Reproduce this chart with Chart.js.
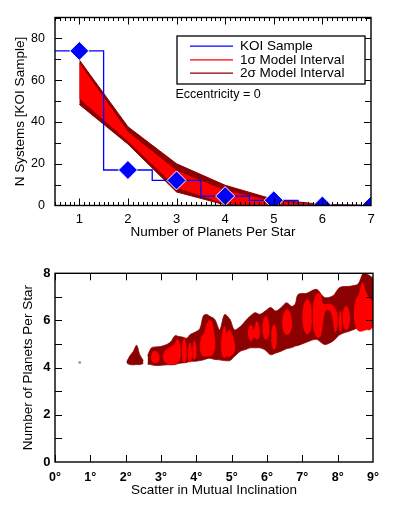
<!DOCTYPE html>
<html><head><meta charset="utf-8">
<script src="https://cdn.jsdelivr.net/npm/chart.js@4.4.1/dist/chart.umd.min.js"></script>
<style>
html,body{margin:0;padding:0;background:#fff;}
#wrap{position:relative;width:397px;height:512px;overflow:hidden;}
.box{position:absolute;left:0;width:397px;}
</style></head><body>
<div id="wrap">
<div class="box" style="top:0;height:250px"><canvas id="c1"></canvas></div>
<div class="box" style="top:250px;height:262px"><canvas id="c2"></canvas></div>
</div>
<script>
// ---------- Top panel data ----------
const planetsPerStar = [1, 2, 3, 4, 5, 6, 7];
const koiSystems     = [74, 17, 12, 4.5, 2.5, 0, 0];
const koiBinEdges    = [0.5, 1.5, 2.5, 3.5, 4.5, 5.5, 7];
const sigma2High = [69.7, 37.7, 20, 9.7, 2.9, 0.5, 0];
const sigma1High = [68, 35, 16.5, 7, 1.8, 0.2, 0];
const sigma1Low  = [51.5, 31, 8.8, 1, 0, 0, 0];
const sigma2Low  = [48.4, 29.4, 6.5, 0.3, 0, 0, 0];
const topXTicks = [1, 2, 3, 4, 5, 6, 7];
const topYTicks = [0, 20, 40, 60, 80];
const legendLabels = ['KOI Sample', '1\u03c3 Model Interval', '2\u03c3 Model Interval'];

// ---------- Bottom panel data ----------
const outerX   = [2.03,2.12,2.22,2.31,2.4,2.5,2.56,2.62,2.73,2.87,3.0,3.16,3.28,3.4,3.5,3.6,3.73,3.82,3.96,4.1,4.2,4.3,4.38,4.52,4.66,4.8,4.95,5.08,5.25,5.4,5.52,5.66,5.8,5.95,6.1,6.25,6.4,6.55,6.7,6.8,6.88,7.12,7.4,7.63,7.87,8.06,8.34,8.58,8.72,8.85,9.0];
const outerTop = [4.25,4.5,4.7,4.95,4.55,4.3,null,4.5,4.84,4.88,4.9,4.98,5.1,5.36,5.32,5.3,5.25,5.4,5.5,5.65,6.2,6.25,6.18,6.05,5.6,6.25,6.05,5.6,5.75,6.0,6.18,6.33,6.26,6.4,6.55,6.4,6.55,6.75,6.6,6.7,7.1,7.15,7.32,6.97,7.05,7.4,7.45,7.55,8.0,7.95,7.8];
const outerBot = [4.2,4.13,4.12,4.13,4.13,4.18,null,4.15,4.12,4.09,4.1,4.12,4.12,4.13,4.18,4.2,4.22,4.27,4.27,4.3,4.33,4.38,4.4,4.35,4.33,4.3,4.3,4.48,4.7,4.77,4.84,4.84,4.84,4.75,4.55,4.62,4.7,4.8,4.85,4.92,4.94,5.08,5.2,4.98,5.13,5.4,5.55,5.7,5.85,5.97,6.04];
const innerX = [
  2.72,2.76,2.84,2.92,2.96,3.0,
  3.06,3.12,3.25,3.38,3.46,3.53,3.56,3.57,
  3.59,3.62,3.66,3.7,3.73,3.75,
  3.76,3.79,3.82,3.85,3.88,3.885,
  3.89,3.92,3.95,3.98,4.01,4.05,
  4.1,4.15,4.22,4.3,4.38,4.46,4.52,4.54,4.6,
  4.7,4.74,4.8,4.86,4.92,4.98,5.05,5.1,5.3,
  5.46,5.5,5.56,5.63,5.7,5.76,5.8,5.84,
  5.87,5.91,5.97,6.03,6.07,6.09,
  6.12,6.15,6.2,6.25,6.28,6.35,
  6.43,6.48,6.57,6.66,6.71,6.85,
  7.0,7.05,7.14,7.23,7.27,7.28,
  7.3,7.34,7.44,7.52,7.58,7.66,7.78,7.86,7.93,8.0,8.02,
  8.03,8.06,8.09,8.12,8.13,
  8.14,8.18,8.24,8.3,8.35,8.42,
  8.46,8.52,8.6,8.7,8.8,8.9,9.0];
const innerTop = [
  4.45,4.65,4.7,4.6,4.45,null,
  4.5,4.72,4.85,4.98,5.2,5.0,4.6,null,
  4.7,5.1,5.25,5.05,4.6,null,
  4.65,4.95,5.05,4.95,4.6,null,
  4.75,5.05,5.15,5.0,4.7,null,
  4.9,5.3,5.45,5.85,6.02,5.85,5.2,4.95,null,
  5.0,5.5,5.75,5.45,5.6,5.5,5.25,4.9,null,
  5.5,5.75,5.8,5.6,5.95,5.85,5.5,null,
  5.7,6.05,6.18,6.05,5.7,null,
  5.3,5.7,5.83,5.7,5.3,null,
  5.95,6.3,6.47,6.3,5.95,null,
  6.2,6.7,6.9,6.7,6.2,null,
  6.4,6.9,7.15,7.1,6.7,6.69,6.69,6.65,6.5,6.3,null,
  6.0,6.35,6.4,6.0,null,
  6.15,6.5,6.62,6.5,6.15,null,
  6.4,6.9,7.1,7.6,7.2,6.95,6.8];
const innerBot = [
  4.45,4.25,4.2,4.25,4.4,null,
  4.4,4.22,4.16,4.16,4.2,4.35,4.55,null,
  4.6,4.3,4.22,4.3,4.5,null,
  4.55,4.3,4.22,4.3,4.5,null,
  4.65,4.4,4.35,4.4,4.6,null,
  4.8,4.55,4.48,4.48,4.5,4.55,4.8,4.9,null,
  4.9,4.5,4.42,4.5,4.45,4.5,4.6,4.8,null,
  5.4,5.2,5.12,5.3,5.2,5.25,5.45,null,
  5.6,5.3,5.2,5.3,5.55,null,
  5.2,4.9,4.77,4.9,5.2,null,
  5.85,5.5,5.4,5.5,5.85,null,
  6.1,5.6,5.42,5.6,6.0,null,
  6.2,5.5,5.27,5.35,5.9,6.42,6.42,6.1,5.5,5.8,null,
  6.0,5.6,5.5,5.9,null,
  6.05,5.7,5.6,5.7,6.05,null,
  6.2,5.7,5.55,5.55,5.6,5.6,5.7];
const strayX = [0.7];
const strayY = [4.22];
const botXTicks = [0, 1, 2, 3, 4, 5, 6, 7, 8, 9];
const botYTicks = [0, 2, 4, 6, 8];
const botYMinor = [1, 3, 5, 7];

Chart.defaults.font.family = '"Liberation Sans", Arial, sans-serif';
Chart.defaults.color = '#000';

const DARK = '#8b0000', RED = '#ff0000', BLUE = '#0000ff';
const pts = (xs, ys) => xs.map((x, i) => ({x: x, y: ys[i]}));

const framePlugin = {
  id: 'frame',
  afterDraw(chart, args, o) {
    const {ctx, chartArea: a, scales: {x, y}} = chart;
    ctx.save();
    ctx.beginPath();
    ctx.rect(a.left, a.top, a.right - a.left, a.bottom - a.top);
    ctx.clip();
    ctx.strokeStyle = '#000';
    ctx.lineWidth = 1;
    ctx.beginPath();
    const xt = (vals, len) => vals.forEach(v => {
      const px = Math.round(x.getPixelForValue(v)) + 0.5;
      ctx.moveTo(px, a.bottom); ctx.lineTo(px, a.bottom - len);
      ctx.moveTo(px, a.top); ctx.lineTo(px, a.top + len);
    });
    const yt = (vals, len) => vals.forEach(v => {
      const py = Math.round(y.getPixelForValue(v)) + 0.5;
      ctx.moveTo(a.left, py); ctx.lineTo(a.left + len, py);
      ctx.moveTo(a.right, py); ctx.lineTo(a.right - len, py);
    });
    xt(o.xMinor || [], o.minorLen);
    xt(o.xMajor || [], o.majorLen);
    yt(o.yMinor || [], o.yMinorLen || o.majorLen);
    yt(o.yMajor || [], o.majorLen);
    ctx.stroke();
    ctx.restore();
    ctx.save();
    ctx.strokeStyle = '#000';
    ctx.lineWidth = 1.4;
    ctx.strokeRect(a.left, a.top, a.right - a.left, a.bottom - a.top);
    ctx.restore();
  }
};

const legendPlugin = {
  id: 'boxLegend',
  afterDraw(chart, args, o) {
    if (!o.show) return;
    const ctx = chart.ctx;
    ctx.save();
    ctx.fillStyle = '#fff';
    ctx.fillRect(177, 36, 188, 48);
    ctx.strokeStyle = '#000';
    ctx.lineWidth = 1.3;
    ctx.strokeRect(177, 36, 188, 48);
    const cols = [BLUE, RED, DARK];
    const rows = [45.7, 59.3, 72.7];
    ctx.font = '13.5px "Liberation Sans", Arial, sans-serif';
    ctx.textBaseline = 'middle';
    legendLabels.forEach((t, i) => {
      ctx.strokeStyle = cols[i];
      ctx.lineWidth = 1.2;
      ctx.beginPath();
      ctx.moveTo(190, rows[i] + 0.5); ctx.lineTo(233, rows[i] + 0.5);
      ctx.stroke();
      ctx.fillStyle = '#000';
      ctx.fillText(t, 240, rows[i] + 0.5);
    });
    ctx.font = '12.5px "Liberation Sans", Arial, sans-serif';
    ctx.fillText('Eccentricity = 0', 175.5, 94.5);
    ctx.restore();
  }
};

const minorTop = [];
for (let v = 5; v <= 70; v++) minorTop.push(v / 10);

const noGrid = {display: false, drawTicks: false, tickLength: 0};

new Chart(document.getElementById('c1'), {
  type: 'line',
  data: {
    datasets: [
      {label: 'KOI', type: 'scatter', data: pts(planetsPerStar, koiSystems), pointStyle: 'rectRot', pointRadius: 9.5,
       backgroundColor: BLUE, borderColor: '#fff', borderWidth: 1, order: 0},
      {label: 'KOI hist', data: pts(koiBinEdges, koiSystems), stepped: 'before', borderColor: BLUE, borderWidth: 1.3,
       pointRadius: 0, fill: false, order: 1},
      {label: '1s hi', data: pts(planetsPerStar, sigma1High), borderColor: RED, backgroundColor: RED, borderWidth: 1,
       pointRadius: 0, fill: '+1', order: 2},
      {label: '1s lo', data: pts(planetsPerStar, sigma1Low), borderColor: RED, borderWidth: 1, pointRadius: 0, fill: false, order: 3},
      {label: '2s hi', data: pts(planetsPerStar, sigma2High), borderColor: DARK, backgroundColor: DARK, borderWidth: 1,
       pointRadius: 0, fill: '+1', order: 4},
      {label: '2s lo', data: pts(planetsPerStar, sigma2Low), borderColor: DARK, borderWidth: 1, pointRadius: 0, fill: false, order: 5}
    ]
  },
  options: {
    responsive: true, maintainAspectRatio: false, animation: false,
    layout: {padding: {left: 0, top: 15, right: 26, bottom: 0}},
    plugins: {legend: {display: false}, tooltip: {enabled: false},
      frame: {xMajor: topXTicks, xMinor: minorTop, yMajor: topYTicks, yMinor: [10, 30, 50, 70, 90], majorLen: 7, minorLen: 3.5, yMinorLen: 6},
      boxLegend: {show: true}},
    scales: {
      x: {type: 'linear', min: 0.5, max: 7,
        afterBuildTicks: s => { s.ticks = topXTicks.map(v => ({value: v})); },
        afterFit: s => { s.height = 44.5; },
        grid: noGrid, border: {display: false},
        ticks: {font: {size: 13}, padding: 6, maxRotation: 0, autoSkip: false},
        title: {display: true, text: 'Number of Planets Per Star', font: {size: 13.5}, padding: {top: 0, bottom: 10}}},
      y: {min: 0, max: 90,
        afterBuildTicks: s => { s.ticks = topYTicks.map(v => ({value: v})); },
        afterFit: s => { s.width = 55; },
        grid: noGrid, border: {display: false},
        ticks: {font: {size: 12.5}, padding: 10},
        title: {display: true, text: 'N Systems [KOI Sample]', font: {size: 13.5}, padding: {top: 12, bottom: 0}}}
    }
  },
  plugins: [framePlugin, legendPlugin]
});

new Chart(document.getElementById('c2'), {
  type: 'line',
  data: {
    datasets: [
      {label: 'inner top', data: pts(innerX, innerTop), borderColor: RED, backgroundColor: RED, borderWidth: 0.5,
       pointRadius: 0, tension: 0.35, fill: '+1', spanGaps: false},
      {label: 'inner bot', data: pts(innerX, innerBot), borderColor: RED, borderWidth: 0.5, pointRadius: 0, tension: 0.35, fill: false, spanGaps: false},
      {label: 'outer top', data: pts(outerX, outerTop), borderColor: DARK, backgroundColor: DARK, borderWidth: 0.8,
       pointRadius: 0, tension: 0.3, fill: '+1', spanGaps: false},
      {label: 'outer bot', data: pts(outerX, outerBot), borderColor: DARK, borderWidth: 0.8, pointRadius: 0, tension: 0.3, fill: false, spanGaps: false},
      {label: 'stray', type: 'scatter', data: pts(strayX, strayY), pointRadius: 1.3, backgroundColor: '#b07878', borderWidth: 0}
    ]
  },
  options: {
    responsive: true, maintainAspectRatio: false, animation: false,
    layout: {padding: {left: 0, top: 23.3, right: 24, bottom: 0}},
    plugins: {legend: {display: false}, tooltip: {enabled: false},
      frame: {xMajor: botXTicks, yMajor: botYTicks, yMinor: botYMinor, majorLen: 7, minorLen: 7}},
    scales: {
      x: {type: 'linear', min: 0, max: 9,
        afterBuildTicks: s => { s.ticks = botXTicks.map(v => ({value: v})); },
        afterFit: s => { s.height = 50; },
        grid: noGrid, border: {display: false},
        ticks: {font: {size: 12.5, weight: 'bold'}, padding: 8, maxRotation: 0, autoSkip: false,
          callback: v => v + '\u00b0'},
        title: {display: true, text: 'Scatter in Mutual Inclination', font: {size: 13.5}, padding: {top: 0, bottom: 14}}},
      y: {min: 0, max: 8,
        afterBuildTicks: s => { s.ticks = botYTicks.map(v => ({value: v})); },
        afterFit: s => { s.width = 55; },
        grid: noGrid, border: {display: false},
        ticks: {font: {size: 13, weight: 'bold'}, padding: 4.5},
        title: {display: true, text: 'Number of Planets Per Star', font: {size: 13.5}, padding: {top: 20, bottom: 0}}}
    }
  },
  plugins: [framePlugin]
});
</script>
</body></html>
